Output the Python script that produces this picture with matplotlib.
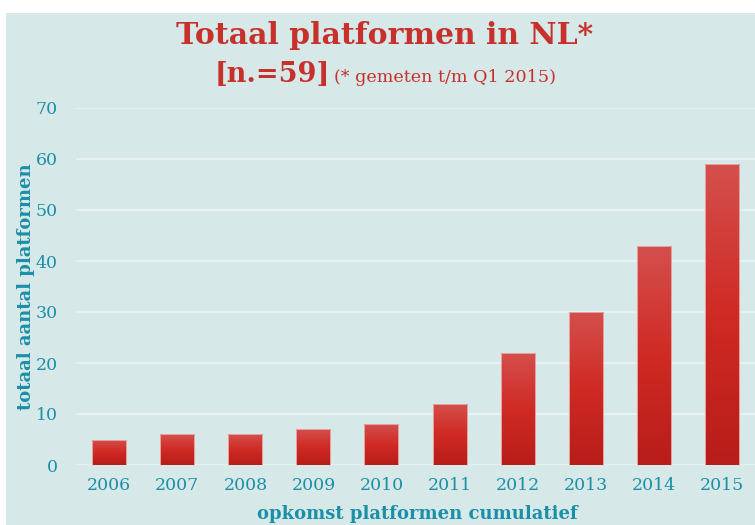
from matplotlib import pyplot as plt
from matplotlib.patches import Rectangle
import numpy as np

# data
jaren = ["2006", "2007", "2008", "2009", "2010", "2011", "2012", "2013", "2014", "2015"]
aantal = [5, 6, 6, 7, 8, 12, 22, 30, 43, 59]
y_ticks = [0, 10, 20, 30, 40, 50, 60, 70]

bg = "#d7e8e8"
teal = "#1a8fa8"
red = "#c8302c"

plt.rcParams['font.family'] = ['DejaVu Serif']

fig = plt.figure(figsize=(7.55, 5.25), dpi=100)
fig.patch.set_facecolor("white")
fig.add_artist(Rectangle((6 / 755, 0), 1, 512 / 525, transform=fig.transFigure,
                         facecolor=bg, edgecolor="none", zorder=-10))

ax = fig.add_axes([76 / 755, 60 / 525, 1 - 76 / 755, 357 / 525])
ax.set_facecolor("none")
for s in ax.spines.values():
    s.set_visible(False)

x = np.arange(len(jaren))
ax.yaxis.grid(True, color="#eaf3f3", linewidth=1.2)
ax.set_axisbelow(True)

# bars with a vertical gradient
cmap = plt.matplotlib.colors.LinearSegmentedColormap.from_list(
    "rood", ["#b81d19", "#d02a24", "#d4504d"])
grad = np.linspace(0, 1, 256).reshape(-1, 1)
bars = ax.bar(x, aantal, width=0.5, color="none", edgecolor="#e6a3a1", linewidth=0.7, zorder=3)
for b in bars:
    x0, w, h = b.get_x(), b.get_width(), b.get_height()
    im = ax.imshow(grad, cmap=cmap, origin="lower", aspect="auto",
                   extent=(x0, x0 + w, 0, h), zorder=2, interpolation="bilinear")
    im.set_clip_path(b)
ax.set_xlim(-0.49, len(jaren) - 0.51)
ax.set_ylim(0, 70)
ax.set_yticks(y_ticks)

ax.set_xticks(x)
ax.set_xticklabels(jaren)
ax.tick_params(length=0, labelsize=12.5, labelcolor=teal)
ax.tick_params(axis="y", pad=13)
ax.tick_params(axis="x", pad=9)

ax.set_ylabel("totaal aantal platformen", color=teal, fontsize=13, fontweight="bold")
ax.set_xlabel("opkomst platformen cumulatief", color=teal, fontsize=13, fontweight="bold")
ax.xaxis.set_label_coords((417 - 76) / (755 - 76), -40 / 357)
ax.yaxis.set_label_coords(-41 / 679, (465 - 287) / 357)

fig.text(385 / 755, 1 - 35 / 525, "Totaal platformen in NL*", color=red, fontsize=21.5,
         fontweight="bold", ha="center", va="center")
fig.text(215 / 755, 1 - 75 / 525, "[n.=59]", color=red, fontsize=19.5,
         fontweight="bold", ha="left", va="center")
fig.text(334 / 755, 1 - 77 / 525, "(* gemeten t/m Q1 2015)", color=red, fontsize=12.6,
         ha="left", va="center")

fig.savefig("out.png", dpi=100, facecolor=fig.get_facecolor())
